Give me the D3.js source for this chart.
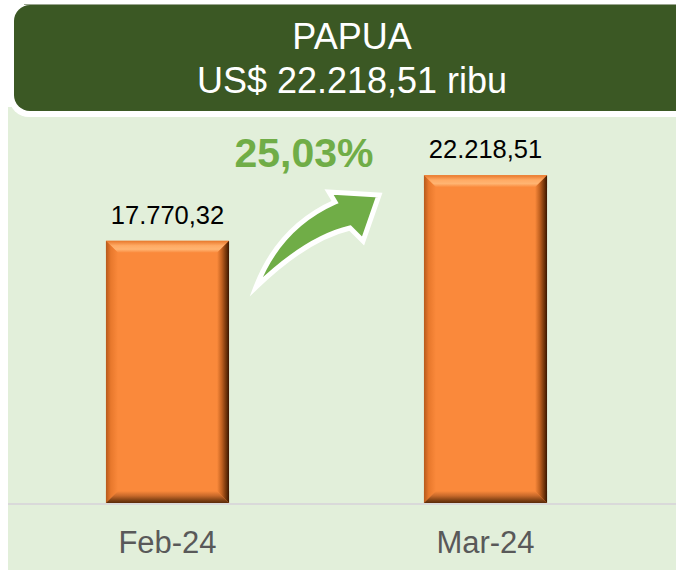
<!DOCTYPE html>
<html><head><meta charset="utf-8">
<script src="https://cdn.jsdelivr.net/npm/d3@7"></script>
<style>html,body{margin:0;padding:0;background:#fff;}svg{display:block;}</style>
</head><body>
<script>
const categories = ["Feb-24", "Mar-24"];
const values = [17770.32, 22218.51];
const valueLabels = ["17.770,32", "22.218,51"];
const titleLines = ["PAPUA", "US$ 22.218,51 ribu"];
const growthLabel = "25,03%";

const W = 676, H = 570;
const FONT = "'Liberation Sans', Arial, sans-serif";
const svg = d3.select("body").append("svg").attr("width", W).attr("height", H);
const defs = svg.append("defs");

// panel
svg.append("rect").attr("x", 8).attr("y", 107).attr("width", W - 8).attr("height", H - 107).attr("fill", "#E2EFDA");

// header
svg.append("rect").attr("x", 9).attr("y", 0).attr("width", 720).attr("height", 117).attr("rx", 20).attr("fill", "#fff");
svg.append("line").attr("x1", 24).attr("x2", W).attr("y1", 4.5).attr("y2", 4.5).attr("stroke", "#9aa68f").attr("stroke-width", 1);
svg.append("rect").attr("x", 14).attr("y", 5).attr("width", 720).attr("height", 106).attr("rx", 16).attr("fill", "#3B5824");
svg.selectAll("text.title").data(titleLines).join("text").attr("class", "title")
  .attr("x", 352).attr("y", (d, i) => 49 + i * 44)
  .attr("text-anchor", "middle").attr("font-family", FONT).attr("font-size", 36)
  .attr("fill", "#fff").text(d => d);

// scales
const x = d3.scaleBand().domain(categories).range([8.5, 644.5]).paddingInner(0.613).paddingOuter(0.3065);
const y = d3.scaleLinear().domain([0, 25000]).range([503, 503 - 25000 * 0.014753]);

// axis baseline
svg.append("line").attr("x1", 8).attr("x2", W).attr("y1", 504).attr("y2", 504).attr("stroke", "#D9D9D9").attr("stroke-width", 2);

// gradients for bevels
function lg(id, x1, y1, x2, y2, stops) {
  const g = defs.append("linearGradient").attr("id", id).attr("x1", x1).attr("y1", y1).attr("x2", x2).attr("y2", y2);
  stops.forEach(s => g.append("stop").attr("offset", s[0]).attr("stop-color", s[1]));
}
const MAIN = "#FA893B";
lg("gTop", 0, 0, 0, 1, [[0, "#E8782C"], [0.4, "#FFAA64"], [0.7, "#FFB472"], [1, MAIN]]);
lg("gRight", 0, 0, 1, 0, [[0, MAIN], [0.4, "#C0601F"], [0.8, "#6A3008"], [1, "#3A1600"]]);
lg("gBottom", 0, 0, 0, 1, [[0, MAIN], [0.4, "#C8692A"], [0.8, "#7A3E12"], [1, "#5A2A08"]]);
lg("gLeft", 1, 0, 0, 0, [[0, MAIN], [0.6, "#E8782C"], [1, "#B65A1C"]]);

const b = 12;
const bars = svg.append("g").selectAll("g").data(categories.map((c, i) => ({c, v: values[i], l: valueLabels[i]}))).join("g");
bars.each(function(d) {
  const g = d3.select(this);
  const x0 = x(d.c), w = x.bandwidth(), y0 = y(d.v), y1 = y(0), x1 = x0 + w;
  g.append("rect").attr("x", x0).attr("y", y0).attr("width", w).attr("height", y1 - y0).attr("fill", MAIN);
  const poly = pts => pts.map(p => p.join(",")).join(" ");
  g.append("polygon").attr("points", poly([[x0, y0], [x1, y0], [x1 - b, y0 + b], [x0 + b, y0 + b]])).attr("fill", "url(#gTop)");
  g.append("polygon").attr("points", poly([[x0, y0], [x0 + b, y0 + b], [x0 + b, y1 - b], [x0, y1]])).attr("fill", "url(#gLeft)");
  g.append("polygon").attr("points", poly([[x0, y1], [x0 + b, y1 - b], [x1 - b, y1 - b], [x1, y1]])).attr("fill", "url(#gBottom)");
  g.append("polygon").attr("points", poly([[x1, y0], [x1 - b, y0 + b], [x1 - b, y1 - b], [x1, y1]])).attr("fill", "url(#gRight)");
  g.append("text").attr("x", x0 + w / 2).attr("y", y0 - 17).attr("text-anchor", "middle")
    .attr("font-family", FONT).attr("font-size", 25.5).attr("fill", "#000").text(d.l);
  g.append("text").attr("x", x0 + w / 2).attr("y", 553).attr("text-anchor", "middle")
    .attr("font-family", FONT).attr("font-size", 31).attr("fill", "#595959").text(d.c);
});

// growth arrow (annotation between bars)
const ax = x(categories[0]) + x.bandwidth(); // 229
const ay = y(0);
const P = (dx, dy) => [ax + dx, ay + dy];
const pts = {
  tail: P(27, -216), c1: P(50, -276), n1: P(106, -301), b1: P(100, -311),
  tip: P(150, -308), b2: P(134, -262), n2: P(121, -275), c2: P(78, -265)
};
const path = `M${pts.tail} Q${pts.c1} ${pts.n1} L${pts.b1} L${pts.tip} L${pts.b2} L${pts.n2} Q${pts.c2} ${pts.tail} Z`;
svg.append("path").attr("d", path).attr("fill", "#70AD47").attr("stroke", "#fff").attr("stroke-width", 5)
  .attr("stroke-linejoin", "miter").attr("stroke-miterlimit", 12);
svg.append("text").attr("x", 304).attr("y", 167).attr("text-anchor", "middle")
  .attr("font-family", FONT).attr("font-size", 41).attr("font-weight", "bold").attr("fill", "#70AD47").text(growthLabel);
</script>
</body></html>
